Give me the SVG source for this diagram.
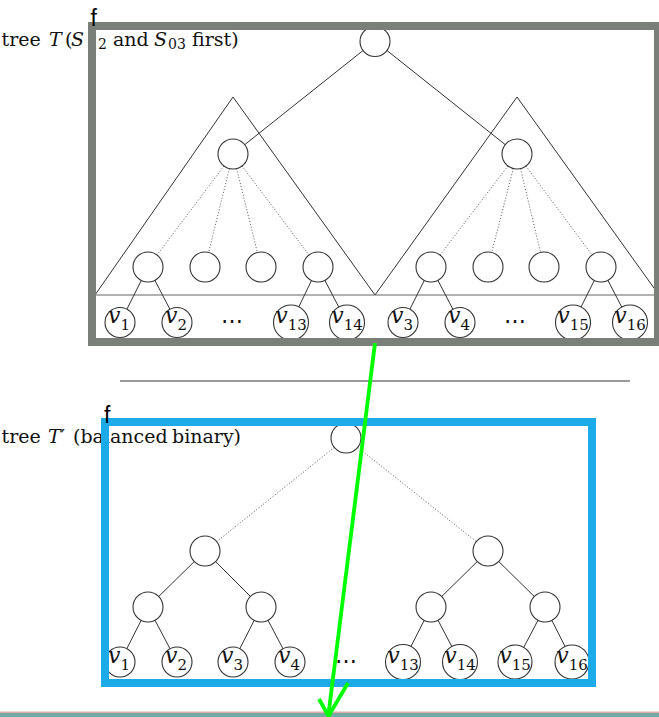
<svg xmlns="http://www.w3.org/2000/svg" width="659" height="717" viewBox="0 0 659 717">
<style>
.lbl{font-family:"DejaVu Serif","Liberation Serif",serif;font-size:19px;fill:#111}
.it{font-style:italic}
.sub{font-size:14px}
.n{fill:#fff;stroke:#333;stroke-width:1.1}
.e{stroke:#333;stroke-width:1;fill:none}
.d{stroke:#555;stroke-width:1;stroke-dasharray:1 2;fill:none}
.v{font-family:"DejaVu Serif","Liberation Serif",serif;font-size:22px;font-style:italic;fill:#111;text-anchor:middle}
.vs{font-size:15px;font-style:normal}
.dots{font-family:"DejaVu Serif",serif;font-size:22px;fill:#111;text-anchor:middle}
.f{font-family:"Liberation Sans",Arial,sans-serif;font-size:23px;fill:#000}
</style>
<rect x="0" y="0" width="659" height="717" fill="#fff"/>

<!-- captions -->
<text id="caption1" class="lbl" y="46"><tspan x="1.5">tree</tspan> <tspan x="49" class="it">T</tspan> <tspan x="65">(</tspan><tspan x="71" class="it">S</tspan><tspan x="89" dy="3" class="sub">12</tspan> <tspan x="113" dy="-3">and</tspan> <tspan x="154" class="it">S</tspan><tspan x="168" dy="3" class="sub">03</tspan> <tspan x="192" dy="-3">first)</tspan></text>
<text id="caption2" class="lbl" y="443"><tspan x="1.5">tree</tspan> <tspan x="48" class="it">T</tspan><tspan>′</tspan> <tspan x="73">(balanced</tspan> <tspan x="172">binary)</tspan></text>

<!-- triangles and guide lines -->
<g id="frames">
<polyline class="e" points="95,295 233,97 375,295 517,97 659,295"/>
<line x1="95" y1="295" x2="656" y2="295" stroke="#666" stroke-width="1.2"/>
<line x1="120" y1="381" x2="630" y2="381" stroke="#777" stroke-width="1.5"/>
</g>

<!-- connectors -->
<g id="connectors">
<line class="e" x1="375" y1="41" x2="233" y2="154"/>
<line class="e" x1="375" y1="41" x2="517" y2="154"/>
<line class="d" x1="233" y1="154" x2="148" y2="267"/>
<line class="d" x1="233" y1="154" x2="205" y2="267"/>
<line class="d" x1="233" y1="154" x2="261" y2="267"/>
<line class="d" x1="233" y1="154" x2="318" y2="267"/>
<line class="d" x1="517" y1="154" x2="431" y2="267"/>
<line class="d" x1="517" y1="154" x2="488" y2="267"/>
<line class="d" x1="517" y1="154" x2="544" y2="267"/>
<line class="d" x1="517" y1="154" x2="601" y2="267"/>
<line class="e" x1="148" y1="267" x2="120" y2="323"/>
<line class="e" x1="148" y1="267" x2="177" y2="323"/>
<line class="e" x1="318" y1="267" x2="291" y2="323"/>
<line class="e" x1="318" y1="267" x2="347" y2="323"/>
<line class="e" x1="431" y1="267" x2="403" y2="323"/>
<line class="e" x1="431" y1="267" x2="460" y2="323"/>
<line class="e" x1="601" y1="267" x2="573" y2="323"/>
<line class="e" x1="601" y1="267" x2="630" y2="323"/>

<line class="d" x1="346" y1="438" x2="205" y2="551"/>
<line class="d" x1="346" y1="438" x2="488" y2="551"/>
<line class="e" x1="205" y1="551" x2="148" y2="607"/>
<line class="e" x1="205" y1="551" x2="261" y2="607"/>
<line class="e" x1="488" y1="551" x2="431" y2="607"/>
<line class="e" x1="488" y1="551" x2="545" y2="607"/>
<line class="e" x1="148" y1="607" x2="120" y2="662"/>
<line class="e" x1="148" y1="607" x2="177" y2="662"/>
<line class="e" x1="261" y1="607" x2="233" y2="662"/>
<line class="e" x1="261" y1="607" x2="290" y2="662"/>
<line class="e" x1="431" y1="607" x2="403" y2="662"/>
<line class="e" x1="431" y1="607" x2="460" y2="662"/>
<line class="e" x1="545" y1="607" x2="516" y2="662"/>
<line class="e" x1="545" y1="607" x2="573" y2="662"/>
</g>

<!-- top tree nodes -->
<g id="t-root"><circle class="n" cx="375" cy="41.5" r="15"/></g>
<g id="t-l"><circle class="n" cx="233" cy="154" r="15"/></g>
<g id="t-r"><circle class="n" cx="517" cy="154" r="15"/></g>
<g id="t-l1"><circle class="n" cx="148" cy="267" r="15"/></g>
<g id="t-l2"><circle class="n" cx="205" cy="267" r="15"/></g>
<g id="t-l3"><circle class="n" cx="261" cy="267" r="15"/></g>
<g id="t-l4"><circle class="n" cx="318" cy="267" r="15"/></g>
<g id="t-r1"><circle class="n" cx="431" cy="267" r="15"/></g>
<g id="t-r2"><circle class="n" cx="488" cy="267" r="15"/></g>
<g id="t-r3"><circle class="n" cx="544" cy="267" r="15"/></g>
<g id="t-r4"><circle class="n" cx="601" cy="267" r="15"/></g>
<g id="t-v1"><circle class="n" cx="120" cy="322.5" r="15"/><text class="v" x="119" y="323">v<tspan class="vs" dy="7">1</tspan></text></g>
<g id="t-v2"><circle class="n" cx="177" cy="322.5" r="15"/><text class="v" x="176" y="323">v<tspan class="vs" dy="7">2</tspan></text></g>
<g id="t-dots1"><text class="dots" x="232" y="328">⋯</text></g>
<g id="t-v13"><circle class="n" cx="291" cy="322.5" r="17.5"/><text class="v" x="291" y="323">v<tspan class="vs" dy="7">13</tspan></text></g>
<g id="t-v14"><circle class="n" cx="347" cy="322.5" r="17.5"/><text class="v" x="347" y="323">v<tspan class="vs" dy="7">14</tspan></text></g>
<g id="t-v3"><circle class="n" cx="403" cy="322.5" r="15"/><text class="v" x="402" y="323">v<tspan class="vs" dy="7">3</tspan></text></g>
<g id="t-v4"><circle class="n" cx="460" cy="322.5" r="15"/><text class="v" x="459" y="323">v<tspan class="vs" dy="7">4</tspan></text></g>
<g id="t-dots2"><text class="dots" x="515" y="328">⋯</text></g>
<g id="t-v15"><circle class="n" cx="573" cy="322.5" r="17.5"/><text class="v" x="573" y="323">v<tspan class="vs" dy="7">15</tspan></text></g>
<g id="t-v16"><circle class="n" cx="630" cy="322.5" r="17.5"/><text class="v" x="630" y="323">v<tspan class="vs" dy="7">16</tspan></text></g>

<!-- bottom tree nodes -->
<g id="b-root"><circle class="n" cx="346" cy="438" r="15"/></g>
<g id="b-l"><circle class="n" cx="205" cy="551" r="15"/></g>
<g id="b-r"><circle class="n" cx="488" cy="551" r="15"/></g>
<g id="b-ll"><circle class="n" cx="148" cy="607" r="15"/></g>
<g id="b-lr"><circle class="n" cx="261" cy="607" r="15"/></g>
<g id="b-rl"><circle class="n" cx="431" cy="607" r="15"/></g>
<g id="b-rr"><circle class="n" cx="545" cy="607" r="15"/></g>
<g id="b-v1"><circle class="n" cx="120" cy="662" r="15"/><text class="v" x="119" y="663">v<tspan class="vs" dy="7">1</tspan></text></g>
<g id="b-v2"><circle class="n" cx="177" cy="662" r="15"/><text class="v" x="176" y="663">v<tspan class="vs" dy="7">2</tspan></text></g>
<g id="b-v3"><circle class="n" cx="233" cy="662" r="15"/><text class="v" x="232" y="663">v<tspan class="vs" dy="7">3</tspan></text></g>
<g id="b-v4"><circle class="n" cx="290" cy="662" r="15"/><text class="v" x="289" y="663">v<tspan class="vs" dy="7">4</tspan></text></g>
<g id="b-dots"><text class="dots" x="346" y="668">⋯</text></g>
<g id="b-v13"><circle class="n" cx="403" cy="662" r="17.5"/><text class="v" x="403" y="663">v<tspan class="vs" dy="7">13</tspan></text></g>
<g id="b-v14"><circle class="n" cx="460" cy="662" r="17.5"/><text class="v" x="460" y="663">v<tspan class="vs" dy="7">14</tspan></text></g>
<g id="b-v15"><circle class="n" cx="515" cy="662" r="17"/><text class="v" x="515" y="663">v<tspan class="vs" dy="7">15</tspan></text></g>
<g id="b-v16"><circle class="n" cx="572" cy="662" r="17"/><text class="v" x="572" y="663">v<tspan class="vs" dy="7">16</tspan></text></g>

<!-- highlight boxes -->
<g id="box-gray"><rect x="92" y="26" width="566" height="316" fill="none" stroke="#7a8079" stroke-width="8"/><text class="f" x="90.5" y="26">f</text></g>
<g id="box-blue"><rect x="105" y="422" width="487" height="261" fill="none" stroke="#1caae8" stroke-width="8"/><text class="f" x="104" y="423">f</text></g>

<!-- bottom band -->
<rect x="0" y="711.5" width="659" height="1.5" fill="#e3aaa8"/>
<rect x="0" y="713" width="659" height="4" fill="#74aaa2"/>

<!-- green arrow -->
<g id="arrow" stroke="#00ff00" stroke-width="3.8" fill="none" stroke-linejoin="miter">
<line x1="375" y1="343" x2="328.5" y2="714"/>
<polyline points="348,683 328.5,716 319,699"/>
</g>
</svg>
